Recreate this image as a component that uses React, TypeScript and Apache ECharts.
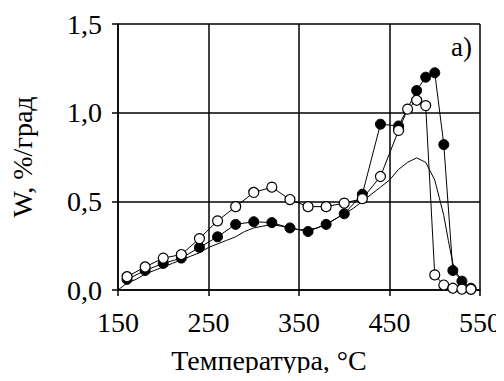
import React, { useEffect, useRef } from "react";
import * as echarts from "echarts";

const xTicks = [150, 250, 350, 450, 550];
const yTicks = [0, 0.5, 1.0, 1.5];

const filledX = [160, 180, 200, 220, 240, 260, 280, 300, 320, 340, 360, 380, 400, 420, 440, 460, 480, 490, 500, 510, 520, 530, 540];
const filledY = [0.06, 0.11, 0.15, 0.18, 0.24, 0.3, 0.37, 0.385, 0.38, 0.35, 0.33, 0.37, 0.43, 0.54, 0.935, 0.925, 1.125, 1.2, 1.225, 0.82, 0.11, 0.05, 0.01];

const openX = [160, 180, 200, 220, 240, 260, 280, 300, 320, 340, 360, 380, 400, 420, 440, 460, 470, 480, 490, 500, 510, 520, 530, 540];
const openY = [0.075, 0.13, 0.18, 0.2, 0.29, 0.39, 0.47, 0.55, 0.58, 0.51, 0.47, 0.47, 0.49, 0.515, 0.64, 0.9, 1.02, 1.07, 1.04, 0.085, 0.028, 0.01, 0.005, 0.004];

const thinX = [150, 160, 170, 180, 190, 200, 210, 220, 230, 240, 250, 260, 270, 280, 290, 300, 310, 320, 330, 340, 350, 360, 370, 380, 390, 400, 410, 420, 430, 440, 450, 460, 470, 480, 490, 500, 505, 510, 515, 520, 525, 530, 540, 545];
const thinY = [0.0, 0.04, 0.06, 0.09, 0.11, 0.13, 0.15, 0.17, 0.19, 0.21, 0.24, 0.26, 0.28, 0.3, 0.33, 0.35, 0.36, 0.37, 0.36, 0.35, 0.34, 0.34, 0.35, 0.37, 0.4, 0.43, 0.46, 0.5, 0.54, 0.58, 0.62, 0.68, 0.72, 0.745, 0.72, 0.62, 0.52, 0.42, 0.28, 0.15, 0.09, 0.05, 0.01, 0.0];

const pair = (xs: number[], ys: number[]) => xs.map((x, i) => [x, ys[i]]);

const FONT = "'Liberation Serif', 'Times New Roman', serif";

export default function App() {
  const ref = useRef<HTMLDivElement>(null);
  useEffect(() => {
    if (!ref.current) return;
    const chart = echarts.init(ref.current, undefined, { renderer: "svg" });
    const txt = { fontFamily: FONT, fontSize: 28, color: "#000", fontWeight: "normal" as const };
    chart.setOption({
      animation: false,
      backgroundColor: "#fff",
      textStyle: { fontFamily: FONT, color: "#000" },
      grid: { left: 117, right: 19, top: 24, bottom: 91, containLabel: false },
      xAxis: {
        type: "value",
        min: xTicks[0],
        max: xTicks[xTicks.length - 1],
        interval: xTicks[1] - xTicks[0],
        name: "Температура, °C",
        nameLocation: "middle",
        nameGap: 56,
        nameTextStyle: { ...txt, padding: [0, 60, 0, 0] },
        axisLine: { show: true, lineStyle: { color: "#000", width: 1.5 } },
        axisTick: { show: true, length: 6, lineStyle: { color: "#000", width: 1.5 } },
        axisLabel: { ...txt, margin: 18 },
        splitLine: { show: true, lineStyle: { color: "#000", width: 1.5 } },
      },
      yAxis: {
        type: "value",
        min: yTicks[0],
        max: yTicks[yTicks.length - 1],
        interval: yTicks[1] - yTicks[0],
        name: "W, %/град",
        nameLocation: "middle",
        nameGap: 82,
        nameRotate: 90,
        nameTextStyle: { ...txt },
        axisLine: { show: true, lineStyle: { color: "#000", width: 1.5 } },
        axisTick: { show: true, length: 6, lineStyle: { color: "#000", width: 1.5 } },
        axisLabel: {
          ...txt,
          margin: 16,
          formatter: (v: number) => v.toFixed(1).replace(".", ","),
        },
        splitLine: { show: true, lineStyle: { color: "#000", width: 1.5 } },
      },
      graphic: [
        {
          type: "text",
          left: 451,
          top: 33,
          style: { text: "а)", fontFamily: FONT, fontSize: 27, fill: "#000" },
        },
      ],
      series: [
        {
          type: "line",
          data: pair(thinX, thinY),
          symbol: "none",
          lineStyle: { color: "#000", width: 1 },
          z: 1,
        },
        {
          type: "line",
          data: pair(filledX, filledY),
          symbol: "circle",
          symbolSize: 10,
          itemStyle: { color: "#000", borderColor: "#000", borderWidth: 1 },
          lineStyle: { color: "#000", width: 1 },
          z: 2,
        },
        {
          type: "line",
          data: pair(openX, openY),
          symbol: "circle",
          symbolSize: 10,
          itemStyle: { color: "#fff", borderColor: "#000", borderWidth: 1.2 },
          lineStyle: { color: "#000", width: 1 },
          z: 3,
        },
      ],
    });
    return () => chart.dispose();
  }, []);
  return <div ref={ref} style={{ width: 504, height: 381, margin: -8 }} />;
}
